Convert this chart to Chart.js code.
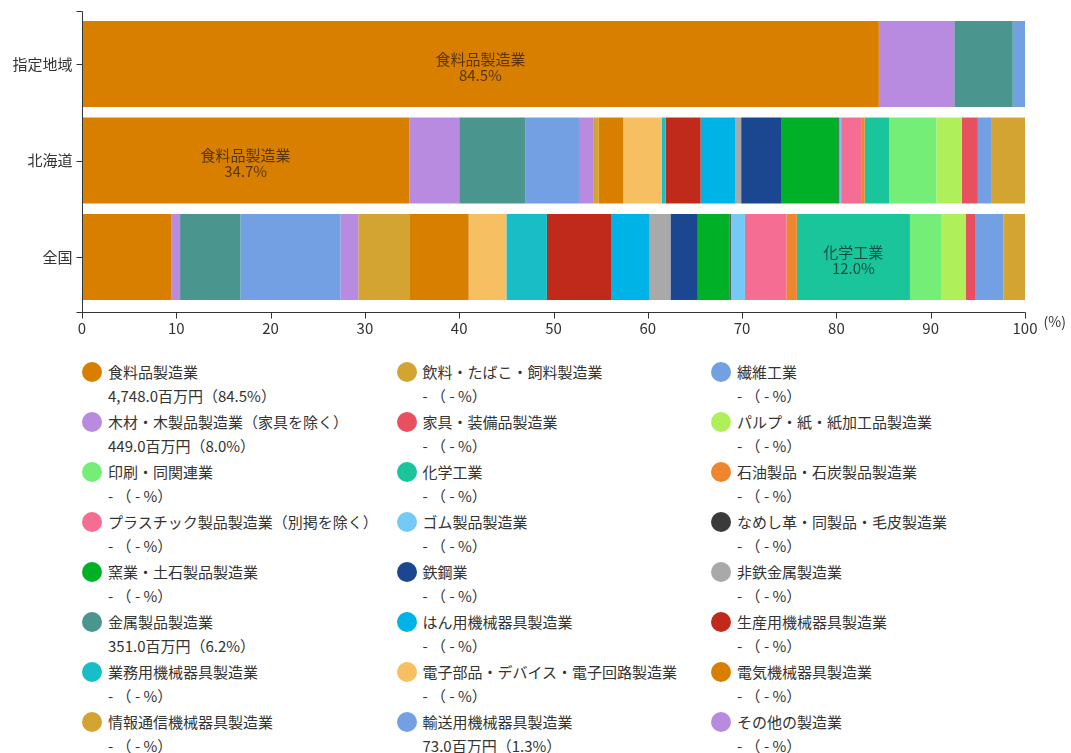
<!DOCTYPE html>
<html lang="ja">
<head>
<meta charset="utf-8">
<title>製造品出荷額等の構成比</title>
<script src="https://cdn.jsdelivr.net/npm/chart.js@4.4.1/dist/chart.umd.min.js"></script>
<style>
  body { margin: 0; background: #fff; font-family: "Noto Sans CJK JP", "Noto Sans", sans-serif; color: #333; }
  #wrap { position: relative; width: 1071px; height: 753px; overflow: hidden; }
  #barChart { display: block; }
  .item { position: absolute; width: 310px; height: 48px; }
  .dot { position: absolute; left: 0; top: 2px; width: 20px; height: 20px; border-radius: 50%; }
  .txt { position: absolute; left: 26px; top: 0; font-size: 15px; line-height: 24px; white-space: nowrap; }
</style>
</head>
<body>
<div id="wrap">
  <canvas id="barChart" width="1071" height="345"></canvas>
  <div id="legend"></div>
</div>
<script>
// categories (y axis)
const categories = ["指定地域", "北海道", "全国"];

// industries in legend order
const industries = [
  "食料品製造業", "飲料・たばこ・飼料製造業", "繊維工業",
  "木材・木製品製造業（家具を除く）", "家具・装備品製造業", "パルプ・紙・紙加工品製造業",
  "印刷・同関連業", "化学工業", "石油製品・石炭製品製造業",
  "プラスチック製品製造業（別掲を除く）", "ゴム製品製造業", "なめし革・同製品・毛皮製造業",
  "窯業・土石製品製造業", "鉄鋼業", "非鉄金属製造業",
  "金属製品製造業", "はん用機械器具製造業", "生産用機械器具製造業",
  "業務用機械器具製造業", "電子部品・デバイス・電子回路製造業", "電気機械器具製造業",
  "情報通信機械器具製造業", "輸送用機械器具製造業", "その他の製造業"
];

const colors = [
  "#d97f00", "#d4a433", "#72a0e2",
  "#b98be0", "#e8505f", "#aff05a",
  "#75ee78", "#1ac59c", "#ef862d",
  "#f56d92", "#74caf4", "#3a3a3a",
  "#00b026", "#1a4790", "#a9a9a9",
  "#4a958e", "#00b3e6", "#bf2a1b",
  "#18bdc6", "#f6bf62", "#d97f00",
  "#d4a433", "#72a0e2", "#b98be0"
];

// shares (%) per region, legend order
const shitei   = [84.5, 0, 0, 8.0, 0, 0, 0, 0, 0, 0, 0, 0, 0, 0, 0, 6.2, 0, 0, 0, 0, 0, 0, 1.3, 0];
const hokkaido = [34.7, 3.6, 1.4, 5.3, 1.7, 2.7, 5.0, 2.6, 0.3, 2.2, 0.2, 0.1, 6.0, 4.3, 0.6, 7.0, 3.7, 3.7, 0.4, 4.1, 2.6, 0.6, 5.7, 1.5];
const zenkoku  = [9.5, 2.3, 3.0, 0.9, 1.0, 2.6, 3.3, 12.0, 1.1, 4.4, 1.5, 0.1, 3.4, 2.9, 2.2, 6.4, 4.1, 6.8, 4.3, 4.0, 6.3, 5.4, 10.6, 1.9];

// 指定地域 amounts (百万円), null = no data
const amounts = [4748.0, null, null, 449.0, null, null, null, null, null, null, null, null, null, null, null, 351.0, null, null, null, null, null, null, 73.0, null];

// order of segments from left to right
const stackOrder = [0, 3, 15, 22, 23, 21, 20, 19, 18, 17, 16, 14, 13, 12, 11, 10, 9, 8, 7, 6, 5, 4, 2, 1];

const xTicks = [0, 10, 20, 30, 40, 50, 60, 70, 80, 90, 100];

const FONT = "'Noto Sans CJK JP', 'Noto Sans', sans-serif";

/* ===== axes drawn on the chart's own scales ===== */
const axisPlugin = {
  id: "axisPlugin",
  afterDraw(chart) {
    const ctx = chart.ctx;
    const a = chart.chartArea;
    const xs = chart.scales.x;
    const ys = chart.scales.y;
    const top = Math.round(a.top - 5) + 0.5;
    const base = Math.round(a.bottom + 7) + 0.5;
    const left = Math.round(a.left) + 0.5;
    const right = Math.round(xs.getPixelForValue(100)) + 0.5;

    ctx.save();
    ctx.strokeStyle = "#333";
    ctx.lineWidth = 1;
    ctx.beginPath();
    // y axis
    ctx.moveTo(left - 6, top);
    ctx.lineTo(left, top);
    ctx.lineTo(left, base);
    ctx.lineTo(left - 6, base);
    // x axis
    ctx.moveTo(left, base);
    ctx.lineTo(right, base);
    xTicks.forEach(v => {
      const px = Math.round(xs.getPixelForValue(v)) + 0.5;
      ctx.moveTo(px, base);
      ctx.lineTo(px, base + 6);
    });
    categories.forEach((c, i) => {
      const py = Math.round(ys.getPixelForValue(i)) + 0.5;
      ctx.moveTo(left - 6, py);
      ctx.lineTo(left, py);
    });
    ctx.stroke();

    ctx.fillStyle = "#333";
    ctx.font = "15px " + FONT;
    ctx.textAlign = "right";
    ctx.textBaseline = "middle";
    categories.forEach((c, i) => {
      ctx.fillText(c, left - 10, ys.getPixelForValue(i));
    });
    ctx.textAlign = "center";
    xTicks.forEach(v => {
      ctx.fillText(String(v), xs.getPixelForValue(v), base + 16);
    });
    ctx.font = "14px " + FONT;
    ctx.textAlign = "left";
    ctx.fillText("(%)", right + 18, base + 9);
    ctx.restore();
  }
};

/* ===== label inside the largest segment of each bar ===== */
const segLabelPlugin = {
  id: "segLabelPlugin",
  afterDatasetsDraw(chart) {
    const ctx = chart.ctx;
    ctx.save();
    ctx.font = "15px " + FONT;
    ctx.fillStyle = "rgba(0,0,0,0.6)";
    ctx.textAlign = "center";
    ctx.textBaseline = "middle";
    categories.forEach((c, ci) => {
      let best = 0;
      chart.data.datasets.forEach((ds, di) => {
        if (ds.data[ci] > chart.data.datasets[best].data[ci]) best = di;
      });
      const bar = chart.getDatasetMeta(best).data[ci];
      const cx = (bar.x + bar.base) / 2;
      ctx.fillText(chart.data.datasets[best].label, cx, bar.y - 5);
      ctx.fillText(chart.data.datasets[best].data[ci].toFixed(1) + "%", cx, bar.y + 11);
    });
    ctx.restore();
  }
};

const datasets = stackOrder.map(i => ({
  label: industries[i],
  data: [shitei[i], hokkaido[i], zenkoku[i]],
  backgroundColor: colors[i],
  borderWidth: 0,
  barPercentage: 0.89,
  categoryPercentage: 1
}));

new Chart(document.getElementById("barChart"), {
  type: "bar",
  data: { labels: categories, datasets: datasets },
  options: {
    indexAxis: "y",
    responsive: false,
    animation: false,
    layout: { padding: { left: 82, right: 46, top: 15.75, bottom: 39.75 } },
    plugins: { legend: { display: false }, tooltip: { enabled: false } },
    scales: {
      x: { type: "linear", min: 0, max: 100, stacked: true, display: false },
      y: { type: "category", stacked: true, display: false, offset: true }
    }
  },
  plugins: [segLabelPlugin, axisPlugin]
});

/* ===== legend (3 columns, legend order) ===== */
const legend = document.getElementById("legend");
industries.forEach((name, i) => {
  const col = i % 3;
  const row = Math.floor(i / 3);
  const val = amounts[i] !== null
    ? amounts[i].toLocaleString("en-US", { minimumFractionDigits: 1 }) + "百万円（" + shitei[i].toFixed(1) + "%）"
    : "- （ - %）";
  const item = document.createElement("div");
  item.className = "item";
  item.style.left = (82 + col * 314.5) + "px";
  item.style.top = (360 + row * 50) + "px";
  item.innerHTML = '<div class="dot" style="background:' + colors[i] + '"></div>' +
    '<div class="txt">' + name + '<br>' + val + '</div>';
  legend.appendChild(item);
});
</script>
</body>
</html>
